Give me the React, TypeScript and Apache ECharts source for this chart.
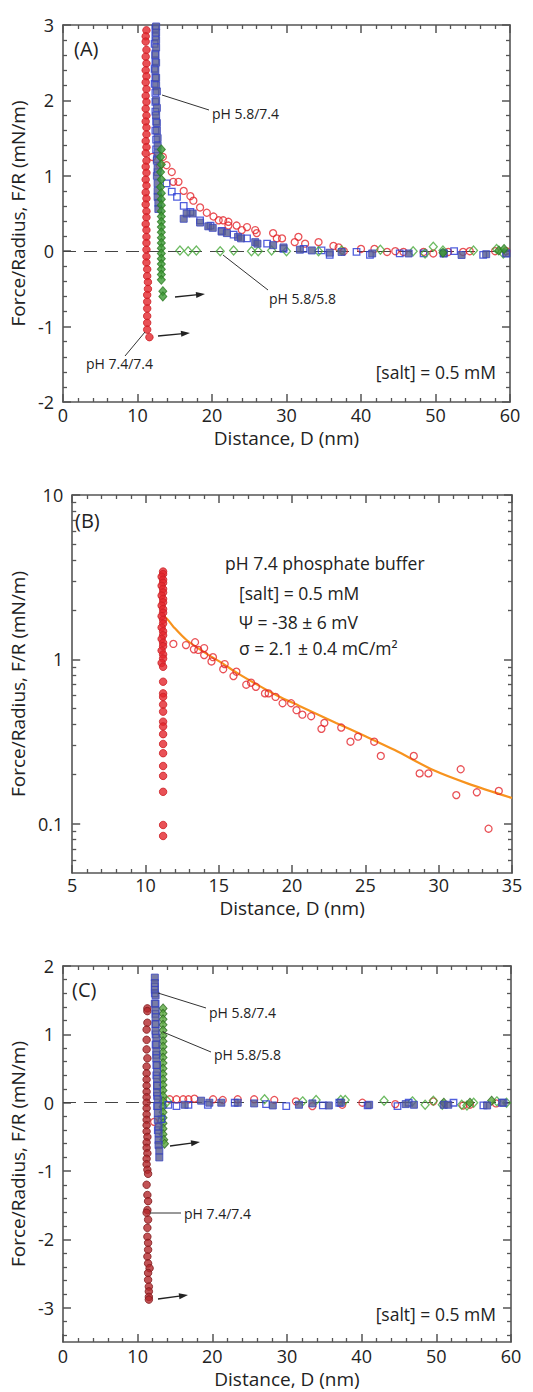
import React, { useEffect, useRef } from "react";
import * as echarts from "echarts";

// ---------- Panel A data (distance nm, force/radius mN/m) ----------
const aRedFilled = [[11.2,2.93],[11.1,2.85],[11.1,2.78],[11.2,2.67],[11.1,2.58],[11.2,2.49],[11.1,2.40],[11.2,2.32],[11.1,2.24],[11.2,2.15],[11.1,2.06],[11.2,1.98],[11.1,1.89],[11.2,1.80],[11.1,1.72],[11.2,1.64],[11.2,1.55],[11.1,1.46],[11.2,1.38],[11.1,1.30],[11.2,1.20],[11.1,1.12],[11.2,1.04],[11.1,0.95],[11.2,0.87],[11.1,0.78],[11.2,0.70],[11.1,0.62],[11.2,0.53],[11.2,0.45],[11.1,0.36],[11.2,0.28],[11.2,0.19],[11.2,0.11],[11.2,0.02],[11.2,-0.07],[11.2,-0.15],[11.3,-0.24],[11.3,-0.33],[11.4,-0.41],[11.4,-0.50],[11.3,-0.58],[11.3,-0.67],[11.3,-0.76],[11.3,-0.86],[11.3,-0.95],[11.3,-1.04],[11.6,-1.14]];
const aRedOpen = [[12.0,1.25],[13.4,1.25],[13.0,1.14],[13.9,1.14],[14.6,1.05],[14.8,0.92],[15.5,0.92],[16.2,0.80],[17.1,0.73],[17.5,0.67],[18.4,0.58],[19.3,0.51],[20.2,0.46],[20.9,0.41],[21.5,0.41],[22.2,0.39],[22.2,0.34],[23.3,0.34],[24.0,0.28],[24.7,0.32],[25.8,0.28],[26.0,0.24],[28.2,0.24],[28.7,0.17],[29.4,0.17],[31.1,0.12],[31.6,0.19],[32.5,0.10],[34.3,0.12],[36.3,0.07],[37.0,0.05],[37.7,0.00],[40.0,0.03],[41.8,0.03],[43.5,-0.01],[44.6,0.00],[45.7,-0.01],[48.4,-0.01],[49.7,-0.03],[51.7,-0.01],[53.7,-0.01],[54.6,0.00],[58.0,0.00],[59.5,0.00]];
const aBlueOpen = [[12.4,2.95],[12.4,2.85],[12.3,2.75],[12.4,2.62],[12.4,2.52],[12.3,2.42],[12.4,2.30],[12.3,2.22],[12.4,2.10],[12.4,1.98],[12.4,1.85],[12.5,1.72],[12.4,1.60],[12.5,1.48],[12.5,1.35],[12.6,1.22],[12.7,1.05],[13.9,0.90],[14.6,0.79],[15.3,0.72],[16.2,0.60],[17.1,0.52],[18.4,0.41],[19.8,0.34],[21.3,0.27],[22.9,0.22],[24.7,0.17],[27.4,0.10],[29.6,0.03],[32.3,0.03],[34.7,0.01],[35.8,-0.05],[39.4,-0.01],[41.2,-0.05],[45.2,-0.03],[48.4,-0.03],[51.1,-0.03],[52.5,0.00],[56.4,-0.05],[59.5,-0.03]];
const aBlueFilled = [[12.5,2.98],[12.5,2.90],[12.5,2.80],[12.5,2.70],[12.4,2.60],[12.5,2.50],[12.4,2.40],[12.5,2.30],[12.5,2.20],[12.6,2.12],[12.5,2.00],[12.6,1.90],[12.5,1.80],[12.6,1.70],[12.6,1.60],[12.7,1.50],[12.7,1.40],[12.7,1.30],[12.6,1.20],[12.7,1.10],[12.6,1.00],[12.7,0.90],[12.7,0.80],[12.7,0.72],[12.8,0.64],[12.8,0.56],[16.2,0.43],[16.6,0.50],[17.4,0.50],[18.4,0.38],[19.5,0.33],[20.1,0.31],[21.3,0.26],[22.0,0.24],[23.5,0.19],[23.9,0.17],[25.8,0.12],[26.1,0.10],[28.2,0.08],[29.6,0.05],[31.8,0.02],[33.4,0.01],[35.8,-0.02],[37.4,-0.01],[41.5,-0.03],[46.4,-0.03],[51.1,-0.03],[53.5,-0.05],[56.8,-0.04],[59.5,-0.03]];
const aGreenFilled = [[13.2,1.35],[13.1,1.25],[13.2,1.15],[13.1,1.05],[13.2,0.95],[13.1,0.85],[13.2,0.77],[13.2,0.69],[13.2,0.61],[13.2,0.53],[13.2,0.46],[13.2,0.39],[13.2,0.32],[13.2,0.25],[13.2,0.18],[13.2,0.11],[13.2,0.04],[13.2,-0.03],[13.2,-0.10],[13.2,-0.17],[13.2,-0.24],[13.2,-0.31],[13.2,-0.38],[13.4,-0.53],[13.4,-0.60],[51.0,-0.02],[58.5,0.01],[59.2,0.03]];
const aGreenOpen = [[15.7,0.01],[16.8,0.00],[17.9,0.01],[21.1,0.00],[22.9,0.01],[25.3,0.00],[26.2,0.00],[28.0,0.01],[30.0,0.00],[34.3,0.00],[37.4,0.01],[42.6,0.02],[47.0,0.00],[48.6,-0.03],[49.7,0.06],[51.0,0.01],[55.1,0.01],[58.2,0.03],[59.1,-0.03]];

// ---------- Panel B data (log scale) ----------
const bRedFilled = [[11.2,3.42],[11.2,3.30],[11.1,3.18],[11.2,3.05],[11.2,2.92],[11.1,2.80],[11.2,2.68],[11.2,2.55],[11.1,2.44],[11.2,2.33],[11.2,2.22],[11.1,2.12],[11.2,2.02],[11.2,1.92],[11.1,1.83],[11.2,1.74],[11.2,1.65],[11.1,1.56],[11.2,1.48],[11.2,1.40],[11.1,1.33],[11.2,1.26],[11.2,1.20],[11.1,1.13],[11.2,1.07],[11.2,1.01],[11.1,0.95],[11.2,0.90],[11.2,0.73],[11.2,0.62],[11.2,0.59],[11.2,0.53],[11.2,0.48],[11.2,0.417],[11.2,0.39],[11.2,0.35],[11.2,0.305],[11.2,0.268],[11.2,0.224],[11.2,0.195],[11.2,0.156],[11.2,0.098],[11.2,0.084]];
const bRedOpen = [[11.9,1.24],[12.76,1.22],[13.38,1.27],[13.3,1.15],[13.6,1.14],[14.0,1.17],[14.0,1.06],[14.6,1.03],[14.5,0.97],[15.4,0.935],[15.3,0.87],[16.2,0.84],[16.0,0.79],[16.87,0.70],[17.2,0.72],[17.53,0.68],[18.15,0.62],[18.4,0.62],[18.87,0.59],[19.35,0.54],[19.93,0.54],[20.3,0.49],[20.7,0.46],[21.3,0.45],[22.0,0.377],[22.2,0.41],[23.35,0.384],[23.98,0.315],[24.5,0.338],[25.6,0.315],[26.05,0.258],[28.3,0.258],[28.7,0.202],[29.3,0.202],[31.2,0.149],[31.5,0.214],[32.6,0.155],[33.4,0.093],[34.1,0.158]];
const bFit = [[11.3,1.82],[11.5,1.75],[11.9,1.58],[12.8,1.31],[14.1,1.09],[15.2,0.95],[16.3,0.82],[17.5,0.71],[19.0,0.60],[20.5,0.52],[23.0,0.41],[25.0,0.34],[27.0,0.28],[29.7,0.21],[32.0,0.175],[35.0,0.143]];

// ---------- Panel C data ----------
const cRedFilled = [[11.3,1.38],[11.3,1.34],[11.3,1.17],[11.2,1.07],[11.2,0.92],[11.2,0.78],[11.3,0.65],[11.2,0.53],[11.2,0.43],[11.2,0.34],[11.2,0.25],[11.2,0.16],[11.2,0.08],[11.2,0.00],[11.2,-0.08],[11.2,-0.17],[11.2,-0.25],[11.2,-0.33],[11.2,-0.42],[11.3,-0.50],[11.2,-0.58],[11.2,-0.66],[11.3,-0.74],[11.2,-0.82],[11.2,-0.90],[11.3,-0.98],[11.4,-1.04],[11.2,-1.20],[11.3,-1.35],[11.4,-1.44],[11.3,-1.57],[11.2,-1.61],[11.4,-1.71],[11.3,-1.83],[11.3,-1.96],[11.4,-2.05],[11.4,-2.15],[11.3,-2.25],[11.4,-2.35],[11.6,-2.42],[11.4,-2.49],[11.4,-2.59],[11.5,-2.69],[11.5,-2.76],[11.5,-2.84],[11.5,-2.88]];
const cRedOpen = [[12.2,-0.28],[14.3,0.05],[15.2,0.05],[16.1,0.05],[16.8,0.05],[17.6,0.06],[20.1,0.05],[21.4,0.04],[23.4,0.05],[25.6,0.05],[28.3,0.04],[31.2,0.02],[33.4,-0.05],[37.4,-0.03],[40.1,0.00],[44.5,-0.02],[49.6,0.02],[53.6,-0.04],[54.5,-0.03],[58.0,-0.01]];
const cBlueOpen = [[12.3,1.70],[12.3,1.60],[12.4,1.45],[12.4,1.30],[12.4,1.15],[12.4,1.00],[12.4,0.85],[12.5,0.70],[12.5,0.55],[12.5,0.40],[12.6,0.25],[12.6,0.10],[12.6,-0.05],[13.2,-0.24],[12.7,-0.40],[14.1,-0.03],[15.2,-0.05],[16.8,-0.03],[19.4,-0.03],[23.0,0.00],[27.2,-0.02],[29.9,-0.05],[34.8,-0.04],[37.0,0.00],[40.8,-0.04],[44.8,-0.05],[46.3,0.00],[52.3,0.00],[56.3,-0.04],[58.8,0.00]];
const cBlueFilled = [[12.3,1.83],[12.3,1.75],[12.3,1.65],[12.4,1.57],[12.3,1.45],[12.4,1.35],[12.4,1.25],[12.4,1.15],[12.4,1.05],[12.5,0.95],[12.5,0.85],[12.5,0.75],[12.5,0.65],[12.6,0.55],[12.6,0.45],[12.6,0.35],[12.6,0.25],[12.6,0.15],[12.7,0.05],[12.7,-0.05],[12.7,-0.15],[12.7,-0.25],[12.8,-0.35],[12.8,-0.45],[12.8,-0.55],[12.8,-0.62],[12.9,-0.70],[12.9,-0.80],[16.3,-0.03],[18.5,0.03],[19.6,0.00],[21.2,0.00],[23.4,0.00],[25.6,-0.01],[28.1,-0.04],[31.6,-0.03],[33.4,-0.01],[35.6,-0.04],[37.2,0.00],[41.0,-0.03],[45.9,-0.02],[47.0,-0.03],[51.0,-0.03],[51.6,-0.03],[56.8,-0.04],[59.0,0.00]];
const cGreenFilled = [[13.4,1.38],[13.4,1.30],[13.4,1.22],[13.4,1.14],[13.4,1.06],[13.4,0.98],[13.4,0.90],[13.4,0.82],[13.4,0.74],[13.4,0.66],[13.4,0.58],[13.4,0.50],[13.4,0.42],[13.4,0.34],[13.4,0.26],[13.4,0.18],[13.4,0.10],[13.4,0.02],[13.4,-0.06],[13.4,-0.14],[13.4,-0.22],[13.4,-0.30],[13.4,-0.38],[13.4,-0.46],[13.5,-0.54],[13.6,-0.60],[51.0,0.00],[54.5,0.00],[57.4,0.03]];
const cGreenOpen = [[14.0,0.02],[27.0,0.05],[32.1,0.02],[33.9,0.04],[37.2,0.04],[37.8,0.04],[43.0,0.03],[46.8,0.02],[48.5,-0.03],[49.6,0.03],[50.8,-0.03],[53.4,-0.03],[54.1,-0.04],[55.0,0.00],[58.1,0.02],[59.4,0.00]];

// ---------- tick values ----------
const xTicksA = [0, 10, 20, 30, 40, 50, 60];
const xTicksB = [5, 10, 15, 20, 25, 30, 35];
const yTicksA = [-2, -1, 0, 1, 2, 3];
const yTicksB = [0.1, 1, 10];
const yTicksC = [-3, -2, -1, 0, 1, 2];
const minorX60 = [2,4,6,8,12,14,16,18,22,24,26,28,32,34,36,38,42,44,46,48,52,54,56,58];
const minorXB = [6,7,8,9,11,12,13,14,16,17,18,19,21,22,23,24,26,27,28,29,31,32,33,34];
const minorYA = [-1.8,-1.6,-1.4,-1.2,-0.8,-0.6,-0.4,-0.2,0.2,0.4,0.6,0.8,1.2,1.4,1.6,1.8,2.2,2.4,2.6,2.8];
const minorYB = [0.06,0.07,0.08,0.09,0.2,0.3,0.4,0.5,0.6,0.7,0.8,0.9,2,3,4,5,6,7,8,9];
const minorYC = [-3.4,-3.2,-2.8,-2.6,-2.4,-2.2,-1.8,-1.6,-1.4,-1.2,-0.8,-0.6,-0.4,-0.2,0.2,0.4,0.6,0.8,1.2,1.4,1.6,1.8];

const FONT = "'Open Sans', sans-serif";
const AX = "#555";
const TXT = "#222";

function fmt(v: number) {
  return String(+Number(v).toPrecision(6));
}

function makeAxes(dim: "x" | "y", grid: number, o: any) {
  const pos = dim === "x" ? ["bottom", "top"] : ["left", "right"];
  const base: any = {
    type: o.type || "value",
    gridIndex: grid,
    min: o.min,
    max: o.max,
    splitLine: { show: false },
    scale: false,
  };
  if (o.type === "log") base.logBase = 10;
  const line = { show: true, onZero: false, lineStyle: { color: AX, width: 1.6 } };
  const noLine = { show: false, onZero: false };
  const major = { show: true, inside: true, length: 8, customValues: o.ticks, lineStyle: { color: AX, width: 1.5 } };
  const minor = { show: true, inside: true, length: 4, customValues: o.minor, lineStyle: { color: AX, width: 1.3 } };
  return [
    {
      ...base,
      position: pos[0],
      axisLine: line,
      axisTick: major,
      axisLabel: {
        show: true,
        customValues: o.ticks,
        fontSize: 18,
        color: TXT,
        fontFamily: FONT,
        margin: o.margin,
        formatter: (v: number) => fmt(v),
      },
      name: o.name,
      nameLocation: "middle",
      nameGap: o.nameGap,
      nameTextStyle: { fontSize: 19, color: TXT, fontFamily: FONT },
    },
    { ...base, position: pos[0], axisLine: noLine, axisTick: minor, axisLabel: { show: false } },
    { ...base, position: pos[1], axisLine: line, axisTick: major, axisLabel: { show: false } },
    { ...base, position: pos[1], axisLine: noLine, axisTick: minor, axisLabel: { show: false } },
  ];
}

const RED = "#e4262c";
const RED_DARK = "#b3282c";
const BLUE = "#2637d4";
const SLATE = "#585c90";
const GREEN = "#3c9a34";
const GREEN_OPEN = "#48aa3b";

function sc(data: number[][], grid: number, symbol: string, size: any, itemStyle: any, z = 2, extra: any = {}) {
  return {
    type: "scatter",
    data,
    xAxisIndex: grid * 4,
    yAxisIndex: grid * 4,
    symbol,
    symbolSize: size,
    itemStyle,
    z,
    silent: true,
    ...extra,
  };
}

const openStyle = (c: string) => ({ color: "rgba(255,255,255,0)", borderColor: c, borderWidth: 1.3 });
const filledStyle = (f: string, b: string) => ({ color: f, borderColor: b, borderWidth: 1 });

const zeroLine = {
  markLine: {
    silent: true,
    symbol: ["none", "none"],
    label: { show: false },
    lineStyle: { type: [13, 8], color: "#444", width: 1.2 },
    data: [{ yAxis: 0 }],
    z: 1,
  },
};

function txt(x: number, y: number, text: string, size: number, align = "left") {
  return {
    type: "text",
    x,
    y,
    z: 100,
    style: { text, fontSize: size, fontFamily: FONT, fill: TXT, align, verticalAlign: "middle" },
  };
}
function seg(x1: number, y1: number, x2: number, y2: number) {
  return { type: "line", z: 100, shape: { x1, y1, x2, y2 }, style: { stroke: "#333", lineWidth: 1 } };
}
function arrow(x1: number, y1: number, x2: number, y2: number) {
  const a = Math.atan2(y2 - y1, x2 - x1);
  const L = 9, W = 3;
  const c = Math.cos(a), s = Math.sin(a);
  const bx = x2 - L * c, by = y2 - L * s;
  return [
    { type: "line", z: 100, shape: { x1, y1, x2: bx + 2 * c, y2: by + 2 * s }, style: { stroke: "#222", lineWidth: 1.3 } },
    { type: "polygon", z: 100, shape: { points: [[x2, y2], [bx + W * s, by - W * c], [bx - W * s, by + W * c]] }, style: { fill: "#222" } },
  ];
}

export default function App() {
  const ref = useRef<HTMLDivElement>(null);
  useEffect(() => {
    document.body.style.margin = "0";
    const chart = echarts.init(ref.current!, null, { renderer: "svg" });
    const xAxis = [
      ...makeAxes("x", 0, { min: 0, max: 60, ticks: xTicksA, minor: minorX60, name: "Distance, D (nm)", nameGap: 26, margin: 4 }),
      ...makeAxes("x", 1, { min: 5, max: 35, ticks: xTicksB, minor: minorXB, name: "Distance, D (nm)", nameGap: 25, margin: 3 }),
      ...makeAxes("x", 2, { min: 0, max: 60, ticks: xTicksA, minor: minorX60, name: "Distance, D (nm)", nameGap: 27, margin: 5 }),
    ];
    const yAxis = [
      ...makeAxes("y", 0, { min: -2, max: 3, ticks: yTicksA, minor: minorYA, name: "Force/Radius, F/R (mN/m)", nameGap: 32, margin: 9 }),
      ...makeAxes("y", 1, { type: "log", min: 0.05, max: 10, ticks: yTicksB, minor: minorYB, name: "Force/Radius, F/R (mN/m)", nameGap: 33, margin: 9 }),
      ...makeAxes("y", 2, { min: -3.5, max: 2, ticks: yTicksC, minor: minorYC, name: "Force/Radius, F/R (mN/m)", nameGap: 33, margin: 9 }),
    ];
    const series: any[] = [
      // A
      sc(aRedOpen, 0, "circle", 7, openStyle(RED), 2, zeroLine),
      sc(aRedFilled, 0, "circle", 7.5, filledStyle(RED, "#cc1f25"), 3),
      sc(aBlueOpen, 0, "rect", 6.5, openStyle(BLUE), 3),
      sc(aBlueFilled, 0, "rect", 7, filledStyle(SLATE, "#3a45c0"), 4),
      sc(aGreenOpen, 0, "diamond", [8, 9], openStyle(GREEN_OPEN), 3),
      sc(aGreenFilled, 0, "diamond", [8, 9], filledStyle(GREEN, "#2a7a22"), 4),
      // B
      sc(bRedFilled, 1, "circle", 7.5, filledStyle(RED, "#cc1f25"), 3),
      {
        type: "line",
        data: bFit,
        xAxisIndex: 4,
        yAxisIndex: 4,
        showSymbol: false,
        smooth: 0.3,
        lineStyle: { color: "#f7931e", width: 2.2 },
        z: 2,
        silent: true,
      },
      sc(bRedOpen, 1, "circle", 7, openStyle(RED), 3),
      // C
      sc(cRedOpen, 2, "circle", 7, openStyle(RED), 2, zeroLine),
      sc(cRedFilled, 2, "circle", 7.5, filledStyle(RED_DARK, "#7e1a1d"), 3),
      sc(cGreenOpen, 2, "diamond", [8, 9], openStyle(GREEN_OPEN), 3),
      sc(cGreenFilled, 2, "diamond", [8, 9], filledStyle("#5aa83e", "#2e6b22"), 3),
      sc(cBlueOpen, 2, "rect", 6.5, openStyle(BLUE), 4),
      sc(cBlueFilled, 2, "rect", 7, filledStyle(SLATE, "#3a45c0"), 5),
    ];
    const graphic: any[] = [
      // A
      txt(74, 48, "(A)", 20),
      txt(212, 113, "pH 5.8/7.4", 14),
      seg(162, 95, 209, 110),
      txt(269, 298, "pH 5.8/5.8", 14),
      seg(223, 255, 268, 290),
      txt(86, 363, "pH 7.4/7.4", 14),
      seg(145, 332, 125, 356),
      ...arrow(175, 297, 205, 294),
      ...arrow(158, 336, 190, 333),
      txt(496, 372, "[salt] = 0.5 mM", 17.5, "right"),
      // B
      txt(75, 520, "(B)", 20),
      txt(225, 563, "pH 7.4 phosphate buffer", 17.5),
      txt(239, 593, "[salt] = 0.5 mM", 17.5),
      txt(239, 622, "Ψ = -38 ± 6 mV", 17.5),
      txt(239, 648, "σ = 2.1 ± 0.4 mC/m²", 17.5),
      // C
      txt(72, 989, "(C)", 20),
      txt(209, 1012, "pH 5.8/7.4", 14),
      seg(158, 993, 206, 1008),
      txt(214, 1054, "pH 5.8/5.8", 14),
      seg(163, 1032, 211, 1052),
      txt(184, 1213, "pH 7.4/7.4", 14),
      seg(150, 1213, 181, 1213),
      ...arrow(170, 1146, 200, 1142),
      ...arrow(158, 1299, 188, 1295),
      txt(496, 1314, "[salt] = 0.5 mM", 17.5, "right"),
    ];
    chart.setOption({
      animation: false,
      backgroundColor: "#fff",
      textStyle: { fontFamily: FONT },
      grid: [
        { left: 63, top: 25, width: 447, height: 377 },
        { left: 62, top: 495, width: 450, height: 378 },
        { left: 61, top: 966, width: 450, height: 376 },
      ],
      xAxis,
      yAxis,
      series,
      graphic,
    });
    return () => chart.dispose();
  }, []);
  return <div ref={ref} style={{ width: 533, height: 1392 }} />;
}
